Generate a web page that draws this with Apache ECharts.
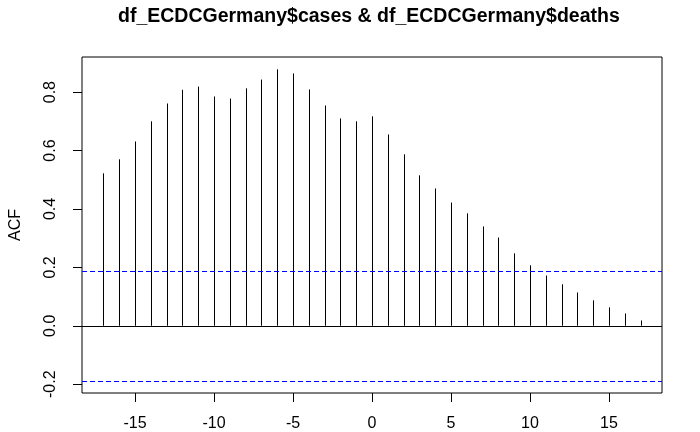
<!DOCTYPE html>
<html>
<head>
<meta charset="utf-8">
<script src="https://cdn.jsdelivr.net/npm/echarts@6/dist/echarts.min.js"></script>
<style>
html,body{margin:0;padding:0;background:#fff;}
#chart{width:700px;height:432px;}
</style>
</head>
<body>
<div id="chart"></div>
<script>
const titleText = "df_ECDCGermany$cases & df_ECDCGermany$deaths";
const yAxisTitle = "ACF";
const lags = [-17,-16,-15,-14,-13,-12,-11,-10,-9,-8,-7,-6,-5,-4,-3,-2,-1,0,1,2,3,4,5,6,7,8,9,10,11,12,13,14,15,16,17];
const acfValues = [0.522,0.570,0.631,0.700,0.761,0.808,0.819,0.785,0.778,0.813,0.843,0.878,0.864,0.809,0.754,0.710,0.700,0.717,
                   0.655,0.587,0.515,0.470,0.422,0.385,0.340,0.302,0.248,0.207,0.172,0.142,0.114,0.087,0.063,0.042,0.018];
const ciBound = 0.188;
const refLevels = [0, ciBound, -ciBound];
const xTicks = [-15,-10,-5,0,5,10,15];
const yTicks = [-0.2,0.0,0.2,0.4,0.6,0.8];

const FONT = "'Liberation Sans', Arial, sans-serif";
const X_MIN = -18.36, X_MAX = 18.36;
const chart = echarts.init(document.getElementById('chart'), null, {renderer:'canvas'});

const data = lags.map((l,i)=>[l, acfValues[i]]);

chart.setOption({
  animation:false,
  backgroundColor:'#fff',
  title:{
    text:titleText,
    left:118,
    top:2,
    padding:[5,0,5,0],
    textStyle:{fontFamily:FONT,fontWeight:'bold',fontSize:19.5,color:'#000'}
  },
  grid:{left:76,right:38,top:57,bottom:39,show:true,borderColor:'#000',borderWidth:1,backgroundColor:'transparent'},
  xAxis:{
    type:'value',min:X_MIN,max:X_MAX,
    axisLine:{show:false,onZero:false},
    splitLine:{show:false},
    axisTick:{show:true,inside:false,length:9,customValues:xTicks,lineStyle:{color:'#000',width:1}},
    axisLabel:{show:true,customValues:xTicks,margin:23,fontFamily:FONT,fontSize:16,color:'#000'}
  },
  yAxis:{
    type:'value',min:-0.2302,max:0.9202,
    name:yAxisTitle,nameLocation:'middle',nameGap:58,nameRotate:90,
    nameTextStyle:{fontFamily:FONT,fontSize:16,color:'#000'},
    axisLine:{show:false,onZero:false},
    splitLine:{show:false},
    axisTick:{show:true,inside:false,length:9,customValues:yTicks,lineStyle:{color:'#000',width:1}},
    axisLabel:{show:true,customValues:yTicks,rotate:90,margin:23,fontFamily:FONT,fontSize:16,color:'#000',
      formatter:v=>v.toFixed(1)}
  },
  series:[
    {
      type:'custom',
      data:data,
      renderItem:function(params,api){
        const x = api.value(0), v = api.value(1);
        const p0 = api.coord([x,0]);
        const p1 = api.coord([x,v]);
        const px = Math.round(p0[0]) + 0.5;
        return {type:'line',shape:{x1:px,y1:p0[1],x2:px,y2:p1[1]},style:{stroke:'#000',lineWidth:1}};
      },
      silent:true
    },
    {
      type:'custom',
      data:refLevels.map((y,i)=>[y,i]),
      renderItem:function(params,api){
        const y = api.value(0), idx = api.value(1);
        const a = api.coord([X_MIN,y]);
        const b = api.coord([X_MAX,y]);
        const py = Math.round(a[1]) + 0.5;
        const isZero = idx === 0;
        return {type:'line',shape:{x1:a[0],y1:py,x2:b[0],y2:py},
          style:{stroke:isZero?'#000000':'#0000ff',lineWidth:1,lineDash:isZero?null:[5,3]}};
      },
      silent:true
    }
  ]
});
</script>
</body>
</html>
